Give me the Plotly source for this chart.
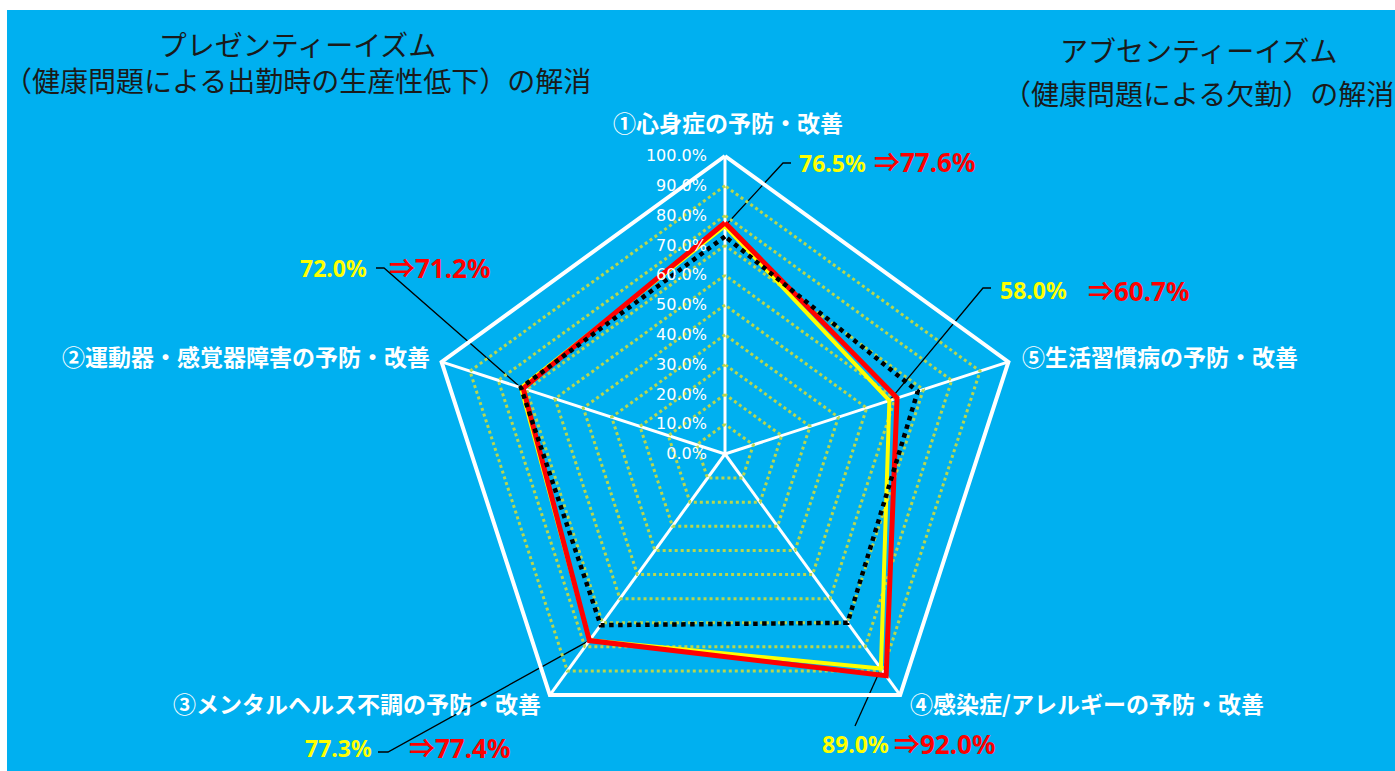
import math
import plotly.graph_objects as go

# ---------------- data ----------------
categories = [
    "①心身症の予防・改善",
    "②運動器・感覚器障害の予防・改善",
    "③メンタルヘルス不調の予防・改善",
    "④感染症/アレルギーの予防・改善",
    "⑤生活習慣病の予防・改善",
]
baseline = [73.0, 72.0, 71.0, 70.0, 68.0]      # black dotted series
before = [76.5, 72.0, 77.3, 89.0, 58.0]        # yellow series
after = [77.6, 71.2, 77.4, 92.0, 60.7]         # red series
radial_ticks = [0, 10, 20, 30, 40, 50, 60, 70, 80, 90, 100]
radial_ticktext = [f"{v:.1f}%" for v in radial_ticks]

# ---------------- layout geometry ----------------
W, H = 1395, 771
CX, CY, R = 725, 454, 298
dom_x = [(CX - R) / W, (CX + R) / W]
dom_y = [(H - CY - R) / H, (H - CY + R) / H]

BLUE = "#00B0F0"
GRIDY = "#B8D64E"


def closed(v):
    return list(v) + [v[0]]


fig = go.Figure()

# leader lines on a full-figure pixel overlay (start point derived from the yellow value)
elbows = [
    [(783, 163), (791, 163)],
    [(384, 268), (376, 268)],
    [(388, 752), (378, 752)],
    [(855, 726)],
    [(983, 288), (991, 288)],
]
for i, pts in enumerate(elbows):
    a = math.radians(90 + i * 72)
    x0 = CX + before[i] / 100 * R * math.cos(a)
    y0 = CY - before[i] / 100 * R * math.sin(a)
    xs = [x0] + [p[0] for p in pts]
    ys = [y0] + [p[1] for p in pts]
    fig.add_trace(go.Scatter(x=xs, y=ys, mode="lines", line=dict(color="#000000", width=1.3),
                             xaxis="x", yaxis="y", hoverinfo="skip"))

fig.add_trace(go.Scatterpolar(
    r=closed(before), theta=closed(categories), mode="lines",
    line=dict(color="#FFFF00", width=4), subplot="polar", hoverinfo="skip"))
fig.add_trace(go.Scatterpolar(
    r=closed(after), theta=closed(categories), mode="lines",
    line=dict(color="#FF0000", width=5), subplot="polar", hoverinfo="skip"))
fig.add_trace(go.Scatterpolar(
    r=closed(baseline), theta=closed(categories), mode="lines",
    line=dict(color="#000000", width=4.5, dash="dot"), subplot="polar", hoverinfo="skip"))

annotations = []

# category labels (placed next to each vertex)
cat_pos = [
    (728, 122, "center"),
    (432, 356, "right"),
    (543, 703, "right"),
    (908, 703, "left"),
    (1020, 356, "left"),
]
for name, (x, y, anc) in zip(categories, cat_pos):
    annotations.append(dict(
        x=x / W, y=1 - y / H, xref="paper", yref="paper", xanchor=anc, yanchor="middle",
        text=f"<b>{name}</b>", showarrow=False,
        font=dict(color="#FFFFFF", size=23, family="Noto Sans CJK JP")))

# value labels (pixel anchors of left edges)
label_pos = [
    ((797, 163), (872, 162)),
    ((298, 268), (387, 268)),
    ((303, 748), (407, 748)),
    ((820, 744), (892, 744)),
    ((998, 290), (1086, 291)),
]
for i, ((yx, yy), (rx, ry)) in enumerate(label_pos):
    annotations.append(dict(
        x=yx / W, y=1 - yy / H, xref="paper", yref="paper", xanchor="left", yanchor="middle",
        text=f"<b>{before[i]:.1f}%</b>", showarrow=False,
        font=dict(color="#FFFF00", size=23, family="Noto Sans, Noto Sans CJK JP")))
    annotations.append(dict(
        x=rx / W, y=1 - ry / H, xref="paper", yref="paper", xanchor="left", yanchor="middle",
        text=f"<b>⇒{after[i]:.1f}%</b>", showarrow=False,
        font=dict(color="#FF0000", size=26, family="Noto Sans, Noto Sans CJK JP")))

titles = [
    ("プレゼンティーイズム<br>（健康問題による出勤時の生産性低下）の解消", 297, 62),
    ("アブセンティーイズム", 1198, 50),
    ("（健康問題による欠勤）の解消", 1198, 93),
]
for t, x, y in titles:
    annotations.append(dict(
        x=x / W, y=1 - y / H, xref="paper", yref="paper", xanchor="center", yanchor="middle",
        text=t, showarrow=False, align="center",
        font=dict(color="#1A1A1A", size=28, family="Noto Sans CJK JP")))

fig.update_layout(
    width=W, height=H,
    margin=dict(l=0, r=0, t=0, b=0),
    paper_bgcolor="#FFFFFF",
    plot_bgcolor="rgba(0,0,0,0)",
    showlegend=False,
    shapes=[dict(type="rect", xref="paper", yref="paper", x0=7 / W, x1=1, y0=0, y1=1 - 10 / H,
                 fillcolor=BLUE, line=dict(width=0), layer="below")],
    annotations=annotations,
    xaxis=dict(domain=[0, 1], range=[0, W], visible=False, fixedrange=True),
    yaxis=dict(domain=[0, 1], range=[H, 0], visible=False, fixedrange=True),
    polar=dict(
        domain=dict(x=dom_x, y=dom_y),
        bgcolor="rgba(0,0,0,0)",
        gridshape="linear",
        radialaxis=dict(
            range=[0, 100], tickvals=radial_ticks, ticktext=radial_ticktext,
            angle=90, tickangle=90, side="counterclockwise",
            showline=False, ticks="outside", ticklen=12, tickcolor="rgba(0,0,0,0)",
            gridcolor=GRIDY, griddash="dot", gridwidth=2.5,
            tickfont=dict(color="#FFFFFF", size=16, family="DejaVu Sans"),
        ),
        angularaxis=dict(
            type="category", categoryarray=categories,
            rotation=90, direction="counterclockwise",
            linecolor="#FFFFFF", linewidth=4, showline=True,
            gridcolor="#FFFFFF", gridwidth=2.5,
            ticks="", showticklabels=False,
        ),
    ),
)

fig.write_html("out.html")
